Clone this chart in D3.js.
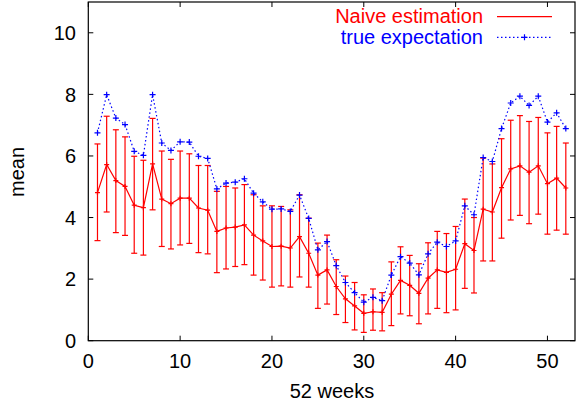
<!DOCTYPE html>
<html><head><meta charset="utf-8">
<script src="https://cdn.jsdelivr.net/npm/d3@7"></script>
<style>body{margin:0;background:#fff}svg{display:block}text{font-family:"Liberation Sans",Arial,sans-serif}</style>
</head><body><svg id="c" width="583" height="407"></svg>
<script>
const weeks = d3.range(1, 53);
const naiveMean = [4.81,5.72,5.20,5.01,4.40,4.32,5.74,4.60,4.45,4.63,4.63,4.31,4.24,3.55,3.66,3.69,3.76,3.43,3.24,3.06,3.07,3.01,3.38,2.84,2.13,2.30,1.76,1.36,1.13,0.89,0.94,0.92,1.51,1.96,1.80,1.54,2.03,2.30,2.22,2.32,3.15,2.93,4.27,4.18,4.97,5.58,5.68,5.47,5.68,5.10,5.28,4.96];
const naiveLow = [3.25,4.18,3.51,3.42,2.84,2.78,4.25,3.06,2.98,3.11,3.16,2.86,2.82,2.21,2.33,2.41,2.47,2.13,1.97,1.74,1.78,1.74,2.07,1.74,1.05,1.19,0.85,0.59,0.35,0.27,0.34,0.32,0.49,0.87,0.81,0.55,0.87,1.05,0.91,1.00,1.70,1.55,2.59,2.59,3.33,3.92,4.07,3.80,4.11,3.46,3.59,3.46];
const naiveHigh = [6.39,7.29,6.85,6.62,5.99,5.86,7.22,6.16,5.89,6.16,6.07,5.69,5.69,4.85,5.01,4.96,5.07,4.74,4.38,4.38,4.36,4.25,4.74,3.98,3.17,3.43,2.63,2.10,1.89,1.49,1.68,1.56,2.56,3.05,2.77,2.50,3.18,3.55,3.48,3.71,4.60,4.00,5.93,5.74,6.56,7.16,7.31,7.12,7.25,6.75,6.96,6.42];
const trueExp = [6.75,7.99,7.23,7.02,6.15,6.02,7.99,6.42,6.18,6.46,6.45,5.99,5.92,4.93,5.12,5.15,5.26,4.79,4.51,4.27,4.28,4.20,4.73,3.97,2.95,3.22,2.44,1.89,1.56,1.25,1.41,1.30,2.13,2.73,2.52,2.14,2.82,3.20,3.06,3.24,4.38,4.09,5.95,5.82,6.89,7.72,7.94,7.64,7.94,7.10,7.40,6.89];
const xTicks = [0,10,20,30,40,50];
const yTicks = [0,2,4,6,8,10];
const seriesNames = ["Naive estimation","true expectation"];

const svg = d3.select("#c");
const L=88.3, R=575, T=2, B=340.7;
const x = d3.scaleLinear().domain([0,53]).range([L,R]);
const y = d3.scaleLinear().domain([0,11]).range([B,T]);
const RED="#ff0000", BLUE="#0000ff";

// frame
svg.append("rect").attr("x",L).attr("y",T).attr("width",R-L).attr("height",B-T)
  .attr("fill","none").attr("stroke","#000").attr("stroke-width",1.2);
const tl=5;
// x ticks (bottom + top mirror)
xTicks.forEach(v=>{
  const px=x(v);
  svg.append("line").attr("x1",px).attr("x2",px).attr("y1",B).attr("y2",B-tl).attr("stroke","#000");
  svg.append("line").attr("x1",px).attr("x2",px).attr("y1",T).attr("y2",T+tl).attr("stroke","#000");
  svg.append("text").attr("x",px).attr("y",368).attr("text-anchor","middle").attr("font-size",20).attr("fill","#000").text(v);
});
yTicks.forEach(v=>{
  const py=y(v);
  svg.append("line").attr("x1",L).attr("x2",L+tl).attr("y1",py).attr("y2",py).attr("stroke","#000");
  svg.append("line").attr("x1",R).attr("x2",R-tl).attr("y1",py).attr("y2",py).attr("stroke","#000");
  svg.append("text").attr("x",76).attr("y",py).attr("dy","0.36em").attr("text-anchor","end").attr("font-size",20).attr("fill","#000").text(v);
});
svg.append("text").attr("transform","translate(24,172) rotate(-90)").attr("text-anchor","middle").attr("font-size",20).text("mean");
svg.append("text").attr("x",332).attr("y",398).attr("text-anchor","middle").attr("font-size",20).text("52 weeks");

const g = svg.append("g");
// error bars
const cap=3;
weeks.forEach((w,i)=>{
  const px=x(w);
  g.append("line").attr("x1",px).attr("x2",px).attr("y1",y(naiveLow[i])).attr("y2",y(naiveHigh[i])).attr("stroke",RED).attr("stroke-width",1.2);
  g.append("line").attr("x1",px-cap).attr("x2",px+cap).attr("y1",y(naiveLow[i])).attr("y2",y(naiveLow[i])).attr("stroke",RED).attr("stroke-width",1.2);
  g.append("line").attr("x1",px-cap).attr("x2",px+cap).attr("y1",y(naiveHigh[i])).attr("y2",y(naiveHigh[i])).attr("stroke",RED).attr("stroke-width",1.2);
});
const line = d3.line().x((d,i)=>x(weeks[i])).y(d=>y(d));
g.append("path").attr("d",line(naiveMean)).attr("fill","none").attr("stroke",RED).attr("stroke-width",1.2);
function plus(sel,px,py,col,s){
  sel.append("path").attr("d",`M${px-s},${py}H${px+s}M${px},${py-s}V${py+s}`).attr("stroke",col).attr("stroke-width",1.2).attr("fill","none");
}
naiveMean.forEach((v,i)=>plus(g,x(weeks[i]),y(v),RED,2.5));
g.append("path").attr("d",line(trueExp)).attr("fill","none").attr("stroke",BLUE).attr("stroke-width",1.2).attr("stroke-dasharray","1.5,2.5");
trueExp.forEach((v,i)=>plus(g,x(weeks[i]),y(v),BLUE,3));

// legend
svg.append("text").attr("x",483).attr("y",23.3).attr("text-anchor","end").attr("font-size",20).attr("fill",RED).text(seriesNames[0]);
svg.append("line").attr("x1",497).attr("x2",552).attr("y1",16.7).attr("y2",16.7).attr("stroke",RED).attr("stroke-width",1.2);
svg.append("text").attr("x",483).attr("y",43.5).attr("text-anchor","end").attr("font-size",20).attr("fill",BLUE).text(seriesNames[1]);
svg.append("line").attr("x1",497).attr("x2",552).attr("y1",37.3).attr("y2",37.3).attr("stroke",BLUE).attr("stroke-width",1.2).attr("stroke-dasharray","1.5,2.5");
plus(svg,524.5,37.3,BLUE,3);
</script></body></html>
